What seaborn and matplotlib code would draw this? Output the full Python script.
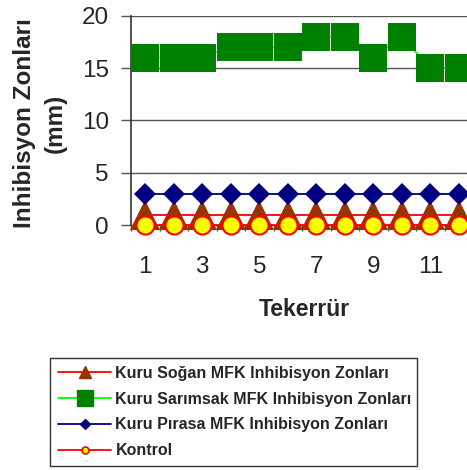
import matplotlib
matplotlib.use("Agg")
import matplotlib.pyplot as plt
from matplotlib.lines import Line2D
import seaborn as sns
import pandas as pd

tekerrur = list(range(1, 13))
sogan = [1] * 12
sarimsak = [16, 16, 16, 17, 17, 17, 18, 18, 16, 18, 15, 15]
pirasa = [3] * 12
kontrol = [0] * 12
xtick_labels = ["1", "3", "5", "7", "9", "11"]
yticks = [0, 5, 10, 15, 20]

names = ["Kuru Soğan MFK Inhibisyon Zonları",
         "Kuru Sarımsak MFK Inhibisyon Zonları",
         "Kuru Pırasa MFK Inhibisyon Zonları",
         "Kontrol"]

sns.set_style("white")
plt.rcParams['font.family'] = ['Liberation Sans', 'DejaVu Sans']

fig = plt.figure(figsize=(4.67, 4.70), dpi=100)
W, H = 467, 470
left, right = 131, 473
top, bottom = 15.7, 225
ax = fig.add_axes([left / W, 1 - bottom / H, (right - left) / W, (bottom - top) / H])

df = pd.DataFrame({"x": tekerrur, "sogan": sogan, "sarimsak": sarimsak,
                   "pirasa": pirasa, "kontrol": kontrol})

# gridlines
for yv in yticks[1:]:
    ax.axhline(yv, color="#555555", lw=1.0, zorder=0.5)

sns.lineplot(data=df, x="x", y="sogan", ax=ax, color="#FF0000", lw=1.3,
             marker="^", markersize=22, markerfacecolor="#993300",
             markeredgecolor="#993300", markeredgewidth=0, clip_on=False, zorder=3)
sns.lineplot(data=df, x="x", y="sarimsak", ax=ax, color="#00FF00", lw=1.3,
             marker="s", markersize=19.5, markerfacecolor="#008000",
             markeredgecolor="#008000", markeredgewidth=0, clip_on=False, zorder=4)
sns.lineplot(data=df, x="x", y="pirasa", ax=ax, color="#000080", lw=1.3,
             marker="D", markersize=11.5, markerfacecolor="#000080",
             markeredgecolor="#000080", markeredgewidth=0, clip_on=False, zorder=5)
sns.lineplot(data=df, x="x", y="kontrol", ax=ax, color="#FF0000", lw=1.3,
             marker="o", markersize=13, markerfacecolor="#FFFF00",
             markeredgecolor="#FF0000", markeredgewidth=1.5, clip_on=False, zorder=6)

ax.set_xlim(0.5, 12.5)
ax.set_ylim(0, 20)
ax.set_yticks(yticks)
ax.set_yticklabels([str(v) for v in yticks], fontsize=17.5)
ax.tick_params(axis="y", length=7, width=1, color="#555555", pad=9, direction="out", left=True)

ax.set_xticks([i + 0.5 for i in range(0, 13)])
ax.set_xticklabels([])
ax.set_xticks([1, 3, 5, 7, 9, 11], minor=True)
ax.set_xticklabels(xtick_labels, minor=True, fontsize=17.5)
ax.tick_params(axis="x", which="major", length=4, width=1, color="#555555", direction="out", bottom=True)
ax.tick_params(axis="x", which="minor", length=0, pad=22, bottom=True)

for s in ["top", "right"]:
    ax.spines[s].set_visible(False)
ax.spines["left"].set_color("#333333")
ax.spines["left"].set_linewidth(1.2)
ax.spines["bottom"].set_color("#555555")
ax.spines["bottom"].set_linewidth(1.0)

ax.set_xlabel("")
ax.set_ylabel("")
fig.text(304 / W, 1 - 310 / H, "Tekerrür", fontsize=16.5, fontweight="bold",
         ha="center", va="center")
fig.text(40 / W, 1 - 123 / H, "Inhibisyon Zonları\n(mm)", fontsize=17.5,
         fontweight="bold", rotation=90, ha="center", va="center",
         multialignment="center", linespacing=1.4)

handles = [
    Line2D([], [], color="#FF0000", lw=1.3, marker="^", markersize=8,
           markerfacecolor="#993300", markeredgecolor="#993300"),
    Line2D([], [], color="#00FF00", lw=1.3, marker="s", markersize=11,
           markerfacecolor="#008000", markeredgecolor="#008000"),
    Line2D([], [], color="#000080", lw=1.3, marker="D", markersize=5,
           markerfacecolor="#000080", markeredgecolor="#000080"),
    Line2D([], [], color="#FF0000", lw=1.3, marker="o", markersize=5,
           markerfacecolor="#FFFF00", markeredgecolor="#FF0000", markeredgewidth=1.2),
]
leg = fig.legend(handles, names, loc="upper left",
                 bbox_to_anchor=(50 / W, 1 - 468 / H, 367 / W, 110 / H),
                 mode="expand", frameon=True, fancybox=False, shadow=False,
                 prop={"weight": "bold", "size": 11.5}, handlelength=3.35,
                 handletextpad=0.25, labelspacing=0.67, borderaxespad=0,
                 borderpad=0.5)
leg.get_frame().set_edgecolor("black")
leg.get_frame().set_linewidth(1.0)

fig.savefig("out.png", dpi=100)
